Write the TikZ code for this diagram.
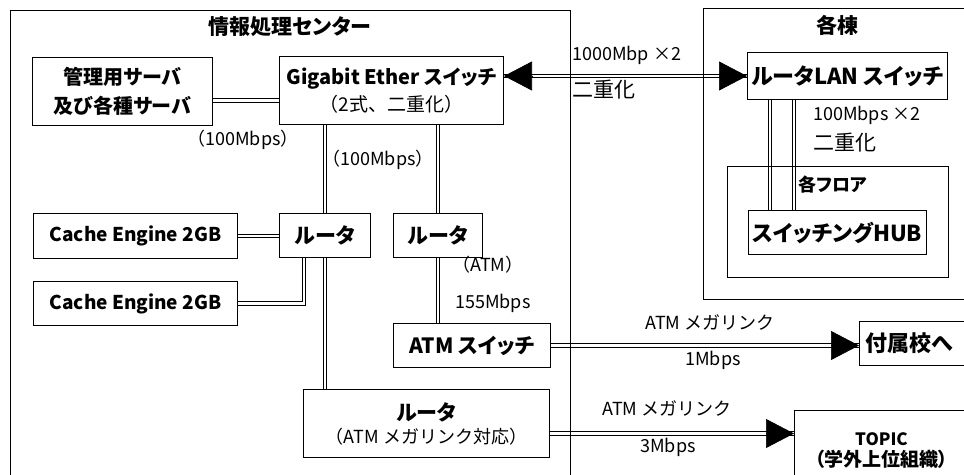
\documentclass[tikz,border=0pt]{standalone}
\usepackage{fontspec}
\setmainfont[RawFeature=+palt]{Noto Sans CJK JP}
\newfontfamily\jpm{Noto Sans CJK JP}
\usetikzlibrary{arrows.meta}

\begin{document}
\begin{tikzpicture}[
        x=1pt,
        y=-1pt,
        every node/.style={inner sep=0pt},
        box/.style={
            draw,
            line width=1pt,
            align=center,
            anchor=north west
        },
        bigb/.style={font=\fontsize{21}{29}\selectfont\bfseries},
        lbl/.style={font=\jpm\fontsize{18}{20}\selectfont},
        link/.style={double, double distance=2.4pt, line width=1pt},
        tip/.style={-{Triangle[length=28pt,width=29pt]}, line width=0.7pt},
        frame/.style={line width=1pt}
    ]
        \useasboundingbox (0,0) rectangle (964,474);
        \clip (0,0) rectangle (964,474);

        % boxes inside the centre
        \node[box, font=\fontsize{20}{29}\selectfont\bfseries,
              minimum width=180pt, minimum height=68pt] (srv) at (32,57)
            {管理用サーバ\\及び各種サーバ};
        \node[box, minimum width=224pt, minimum height=68pt] (gbe) at (279,56)
            {{\fontsize{20}{22}\selectfont\bfseries Gigabit Ether スイッチ}\\[5pt]
             {\jpm\fontsize{19}{22}\selectfont （2式、二重化）}};
        \node[box, font=\fontsize{19}{20}\selectfont\bfseries,
              minimum width=204pt, minimum height=45pt] (ce1) at (33,213)
            {Cache Engine 2GB};
        \node[box, font=\fontsize{19}{20}\selectfont\bfseries,
              minimum width=204pt, minimum height=44pt] (ce2) at (33,281)
            {Cache Engine 2GB};
        \node[box, bigb, minimum width=91pt, minimum height=44pt] (r1) at (279,213) {ルータ};
        \node[box, bigb, minimum width=89pt, minimum height=44pt] (r2) at (393,213) {ルータ};
        \node[box, bigb, minimum width=157pt, minimum height=44pt] (atmsw) at (393,323)
            {ATM スイッチ};
        \node[box, minimum width=246pt, minimum height=68pt] (r3) at (303,389)
            {{\fontsize{21}{22}\selectfont\bfseries ルータ}\\[5pt]
             {\jpm\fontsize{18}{20}\selectfont （ATM メガリンク対応）}};

        % boxes in the buildings
        \node[box, font=\fontsize{22}{24}\selectfont\bfseries,
              minimum width=200pt, minimum height=47pt] (lan) at (747,52)
            {ルータLAN スイッチ};
        \node[box, font=\fontsize{22}{24}\selectfont\bfseries,
              minimum width=178pt, minimum height=44pt] (hub) at (748,210)
            {スイッチングHUB};

        % outside
        \node[box, font=\fontsize{22}{24}\selectfont\bfseries,
              text width=100pt, align=left, inner xsep=6pt,
              minimum height=44pt] (fuzoku) at (859,321) {付属校へ};
        \node[box, text width=174pt, minimum height=80pt,
              inner ysep=6pt] (topic) at (794,410)
            {{\fontsize{17}{20}\selectfont\bfseries TOPIC}\\[4pt]
             {\fontsize{19}{21}\selectfont\bfseries （学外上位組織）}};

        % connectors
        \draw[link] ([yshift=-9pt]srv.east) -- ([yshift=-9pt]srv.east -| gbe.west);
        \draw[link] (r1.north |- gbe.south) -- (r1.north);
        \draw[link] (r1.south) -- (r1.south |- r3.north);
        \draw[link] (r2.north |- gbe.south) -- (r2.north);
        \draw[link] (r2.south) -- (r2.south |- atmsw.north);
        \draw[link] (ce1.east) -- (ce1.east -| r1.west);
        \draw[link] (ce2.east) -| ([xshift=-21pt]r1.south);
        \foreach \dx in {23,47}
            \draw[link] ([xshift=\dx pt]lan.south west) -- ([xshift=\dx pt]lan.south west |- hub.north);

        \coordinate (gbeR) at (gbe.east |- lan.west);
        \coordinate (atmR) at (atmsw.east);
        \coordinate (fuzL) at (atmsw.east -| fuzoku.west);
        \coordinate (r3R) at ([yshift=-10pt]r3.east);
        \coordinate (topL) at ([yshift=-10pt]r3.east -| topic.west);
        \draw[link] (gbeR) -- (lan.west);
        \draw[link] (atmR) -- (fuzL);
        \draw[link] (r3R) -- (topL);
        \draw[tip] ([xshift=28pt]gbeR) -- (gbeR);
        \draw[tip] ([xshift=-28pt]lan.west) -- (lan.west);
        \draw[tip] ([xshift=-28pt]fuzL) -- (fuzL);
        \draw[tip] ([xshift=-28pt]topL) -- (topL);

        % frames
        \draw[frame] (10,10) rectangle (570,500);
        \node[bigb] (center) at (290,27) {情報処理センター};
        \draw[frame] (703,8) rectangle (1000,299);
        \node[bigb] (bldg) at (837,25) {各棟};
        \draw[frame] (727,166) rectangle (948,277);
        \node[font=\fontsize{18}{20}\selectfont\bfseries, anchor=west] (floor) at (798,185) {各フロア};

        % link labels
        \node[lbl] (l100a) at (243,140) {（100Mbps）};
        \node[lbl] (l100b) at (378,160) {（100Mbps）};
        \node[lbl, anchor=west] (l1000) at (572,55) {1000Mbp ×2};
        \node[lbl, font=\fontsize{21}{22}\selectfont, anchor=west] (dup1) at (572,90) {二重化};
        \node[lbl, anchor=west] (l100x) at (813,115) {100Mbps ×2};
        \node[lbl, font=\fontsize{21}{22}\selectfont, anchor=west] (dup2) at (813,143) {二重化};
        \node[lbl, anchor=west] (latm) at (452,265) {（ATM）};
        \node[lbl, anchor=west] (l155) at (455,303) {155Mbps};
        \node[lbl, anchor=west] (mega1) at (645,322) {ATM メガリンク};
        \node[lbl] (l1) at (713,360) {1Mbps};
        \node[lbl, anchor=west] (mega2) at (602,408) {ATM メガリンク};
        \node[lbl] (l3) at (668,447) {3Mbps};

    \end{tikzpicture}
\end{document}
